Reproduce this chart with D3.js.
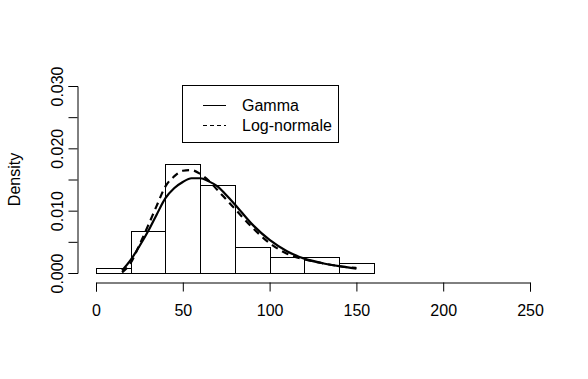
<!DOCTYPE html>
<html>
<head>
<meta charset="utf-8">
<script src="https://cdn.jsdelivr.net/npm/d3@7"></script>
<style>
	body { margin: 0; background: #fff; }
	svg { display: block; font-family: "Liberation Sans", Arial, sans-serif; }
</style>
</head>
<body>
<svg id="svg"></svg>
<script>
var width = 588, height = 379;

// histogram: bin starts (width 20) and densities
var binStart = [0, 20, 40, 60, 80, 100, 120, 140];
var binDensity = [0.000833, 0.006667, 0.0175, 0.014167, 0.004167, 0.0025, 0.0025, 0.001667];
var binWidth = 20;

// fitted densities
var curveX = [15, 20, 25, 30, 35, 40, 45, 50, 55, 60, 65, 70, 75, 80, 90, 100, 110, 120, 130, 140, 150];
var gammaDens = [0.0004, 0.0021, 0.0043, 0.0067, 0.0094, 0.0120, 0.0136, 0.0146, 0.0152, 0.0152, 0.0147, 0.0139, 0.0125, 0.0110, 0.0078, 0.0053, 0.0035, 0.0023, 0.0016, 0.0011, 0.0007];
var lognormDens = [0.0001, 0.0016, 0.0045, 0.0076, 0.0108, 0.0139, 0.0155, 0.0164, 0.0165, 0.0159, 0.0148, 0.0133, 0.0118, 0.0103, 0.0073, 0.0048, 0.0031, 0.0022, 0.0016, 0.0011, 0.0008];

var xTicks = [0, 50, 100, 150, 200, 250];
var yTicks = [0, 0.005, 0.010, 0.015, 0.020, 0.025, 0.030];
var yLabelled = [0, 0.010, 0.020, 0.030];
var legendNames = ["Gamma", "Log-normale"];

var svg = d3.select("#svg")
	.attr("width", width)
	.attr("height", height);

var x = d3.scaleLinear()
	.domain([0, 250])
	.range([96, 530]);

var y = d3.scaleLinear()
	.domain([0, 0.03])
	.range([273, 86]);

// bars
svg.append("g")
	.selectAll("rect")
	.data(binStart)
	.enter()
	.append("rect")
	.attr("x", function(d) { return Math.round(x(d)) + 0.5; })
	.attr("y", function(d, i) { return Math.round(y(binDensity[i])) + 0.5; })
	.attr("width", function(d) { return Math.round(x(d + binWidth)) - Math.round(x(d)); })
	.attr("height", function(d, i) { return Math.round(y(0)) - Math.round(y(binDensity[i])); })
	.attr("fill", "none")
	.attr("stroke", "#000")
	.attr("stroke-width", 1);

var lineGenerator = d3.line()
	.x(function(d) { return x(d[0]); })
	.y(function(d) { return y(d[1]); })
	.curve(d3.curveMonotoneX);

svg.append("path")
	.attr("fill", "none")
	.attr("stroke", "#000")
	.attr("stroke-width", 2.2)
	.attr("stroke-linejoin", "round")
	.attr("d", lineGenerator(curveX.map(function(v, i) { return [v, gammaDens[i]]; })));

svg.append("path")
	.attr("fill", "none")
	.attr("stroke", "#000")
	.attr("stroke-width", 2.2)
	.attr("stroke-dasharray", "7,5")
	.attr("d", lineGenerator(curveX.map(function(v, i) { return [v, lognormDens[i]]; })));

// axes
var xAxis = d3.axisBottom(x)
	.tickValues(xTicks)
	.tickSizeOuter(0)
	.tickSize(9)
	.tickFormat(d3.format("d"));

var gx = svg.append("g")
	.attr("transform", "translate(0,282.5)")
	.call(xAxis);
gx.selectAll("text")
	.attr("y", 22)
	.attr("font-size", "16px")
	.attr("fill", "#000");

var yAxis = d3.axisLeft(y)
	.tickValues(yTicks)
	.tickSizeOuter(0)
	.tickSize(9)
	.tickFormat(function(d) {
		return yLabelled.some(function(v) { return Math.abs(v - d) < 1e-9; }) ? d3.format(".3f")(d) : "";
	});

var gy = svg.append("g")
	.attr("transform", "translate(77.5,0)")
	.call(yAxis);
gy.selectAll("text")
	.attr("transform", "rotate(-90)")
	.attr("x", 0)
	.attr("y", -15)
	.attr("dy", 0)
	.attr("text-anchor", "middle")
	.attr("font-size", "16px")
	.attr("fill", "#000");

svg.selectAll(".domain, .tick line").attr("stroke", "#000");
svg.selectAll("g").attr("font-family", null);

svg.append("text")
	.attr("transform", "translate(20,179.5) rotate(-90)")
	.attr("text-anchor", "middle")
	.attr("font-size", "16px")
	.text("Density");

// legend
var legend = svg.append("g")
	.attr("class", "legend");

legend.append("rect")
	.attr("x", 182.5)
	.attr("y", 85.5)
	.attr("width", 156)
	.attr("height", 57)
	.attr("fill", "#fff")
	.attr("stroke", "#000");

legend.selectAll("line")
	.data(legendNames)
	.enter()
	.append("line")
	.attr("x1", 203)
	.attr("x2", 226)
	.attr("y1", function(d, i) { return 105.5 + i * 20; })
	.attr("y2", function(d, i) { return 105.5 + i * 20; })
	.attr("stroke", "#000")
	.attr("stroke-dasharray", function(d, i) { return i === 0 ? null : "4,3"; });

legend.selectAll("text")
	.data(legendNames)
	.enter()
	.append("text")
	.attr("x", 242)
	.attr("y", function(d, i) { return 105 + i * 20; })
	.attr("dy", "0.35em")
	.attr("font-size", "16px")
	.text(function(d) { return d; });
</script>
</body>
</html>
